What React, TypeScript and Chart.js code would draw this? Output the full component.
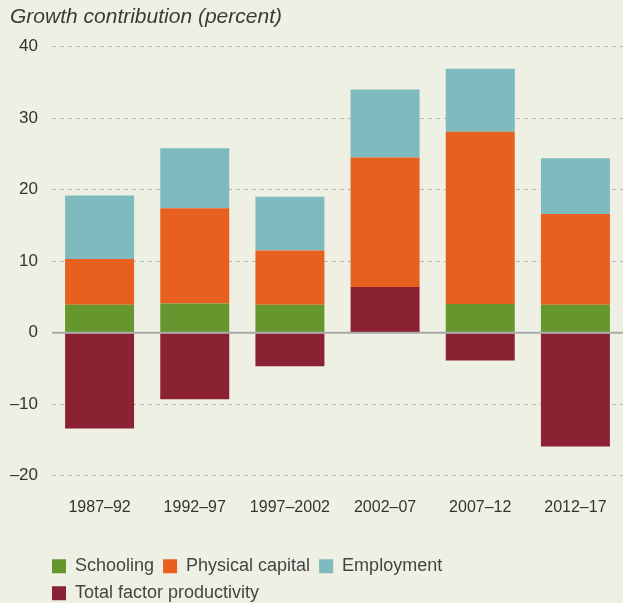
import React, { useEffect, useRef } from "react";
import { Chart, registerables } from "chart.js";

Chart.register(...registerables);

const categories = ["1987–92", "1992–97", "1997–2002", "2002–07", "2007–12", "2012–17"];
const schooling = [3.9, 4.1, 3.9, 0, 4.0, 3.9];
const physicalCapital = [6.4, 13.3, 7.6, 18.1, 24.1, 12.7];
const employment = [8.9, 8.4, 7.5, 9.5, 8.8, 7.8];
const totalFactorProductivity = [-13.4, -9.3, -4.7, 6.4, -3.9, -15.9];

const yMin = -20;
const yMax = 40;
const yStep = 10;

const BG = "#eff0e4";

const bgPlugin = {
  id: "bg",
  beforeDraw(chart: any) {
    const { ctx, width, height } = chart;
    ctx.save();
    ctx.fillStyle = BG;
    ctx.fillRect(0, 0, width, height);
    ctx.restore();
  },
};

const zeroLinePlugin = {
  id: "zeroLine",
  afterDatasetsDraw(chart: any) {
    const { ctx, chartArea } = chart;
    const y = chart.scales.y.getPixelForValue(0);
    ctx.save();
    ctx.strokeStyle = "#aaaaaa";
    ctx.lineWidth = 2;
    ctx.beginPath();
    ctx.moveTo(chartArea.left, y);
    ctx.lineTo(chartArea.right, y);
    ctx.stroke();
    ctx.restore();
  },
};

const legendShiftPlugin = {
  id: "legendShift",
  afterLayout(chart: any) {
    const lg = chart.legend;
    if (lg) {
      lg.left = chart.chartArea.left - 9;
      lg.top = lg.top + 9.3;
    }
  },
};

export default function App() {
  const ref = useRef<HTMLCanvasElement | null>(null);

  useEffect(() => {
    document.body.style.margin = "0";
    document.body.style.background = BG;
    const canvas = ref.current;
    if (!canvas) return;
    const order = [3, 0, 1, 2];
    const chart = new Chart(canvas, {
      type: "bar",
      data: {
        labels: categories,
        datasets: [
          { label: "Total factor productivity", data: totalFactorProductivity, backgroundColor: "#8b2233" },
          { label: "Schooling", data: schooling, backgroundColor: "#66972e" },
          { label: "Physical capital", data: physicalCapital, backgroundColor: "#e8601f" },
          { label: "Employment", data: employment, backgroundColor: "#7fbbbe" },
        ],
      },
      options: {
        responsive: false,
        animation: false,
        devicePixelRatio: 1,
        layout: { autoPadding: false, padding: { left: 10, right: 0, top: 0, bottom: 0 } },
        datasets: {
          bar: { categoryPercentage: 1, barPercentage: 0.725, borderWidth: 0 },
        },
        scales: {
          x: {
            stacked: true,
            grid: { display: false, drawTicks: false },
            border: { display: false },
            ticks: {
              padding: 22,
              color: "#333333",
              font: { family: '"Liberation Sans", Arial, sans-serif', size: 16 },
            },
            afterFit: (scale: any) => {
              scale.height = 63.3;
              scale.paddingLeft = 0;
              scale.paddingRight = 0;
            },
          },
          y: {
            stacked: true,
            min: yMin,
            max: yMax,
            grid: {
              drawTicks: false,
              lineWidth: 1,
              color: (ctx: any) => (ctx.tick && ctx.tick.value === 0 ? "rgba(0,0,0,0)" : "#b5b5b5"),
            },
            border: { display: false, dash: [4, 4] },
            ticks: {
              stepSize: yStep,
              padding: 14,
              color: "#333333",
              font: { family: '"Liberation Sans", Arial, sans-serif', size: 17 },
              callback: (v: any) => (Number(v) < 0 ? "–" + Math.abs(Number(v)) : String(v)),
            },
            afterFit: (scale: any) => {
              scale.width = 42;
            },
          },
        },
        plugins: {
          title: {
            display: true,
            text: "Growth contribution (percent)",
            align: "start",
            color: "#3a3a3a",
            font: { family: '"Liberation Sans", Arial, sans-serif', size: 21, style: "italic", weight: "normal" },
            padding: { top: 5, bottom: 16.5 },
          },
          legend: {
            position: "bottom",
            align: "start",
            labels: {
              boxWidth: 14,
              boxHeight: 14,
              padding: 9,
              color: "#444444",
              font: { family: '"Liberation Sans", Arial, sans-serif', size: 18 },
              sort: (a: any, b: any) => order[a.datasetIndex] - order[b.datasetIndex],
            },
          },
          tooltip: { enabled: false },
        },
      } as any,
      plugins: [bgPlugin, zeroLinePlugin, legendShiftPlugin],
    });
    return () => chart.destroy();
  }, []);

  return <canvas ref={ref} width={623} height={603} style={{ display: "block", width: 623, height: 603 }} />;
}
